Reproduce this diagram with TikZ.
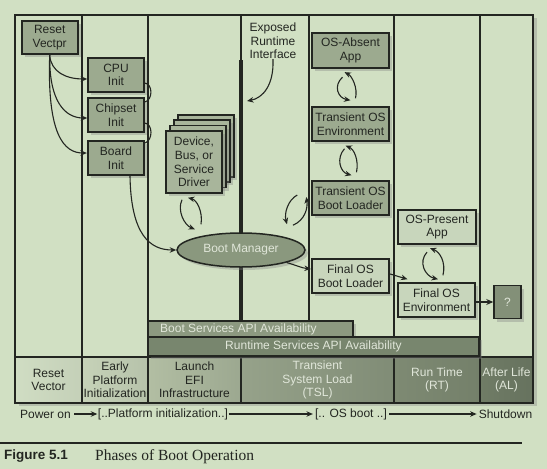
\documentclass[tikz,border=0pt]{standalone}
\usepackage{fontspec}
\setmainfont{Liberation Sans}
\newfontfamily\capserif{Liberation Serif}
\usetikzlibrary{arrows.meta,shadows,shapes.geometric}
\definecolor{ink}{RGB}{35,38,33}
\definecolor{bg}{RGB}{209,224,195}
\definecolor{boxmid}{RGB}{156,170,143}
\definecolor{boxlight}{RGB}{200,214,188}
\definecolor{drvfill}{RGB}{168,181,155}
\definecolor{ellfill}{RGB}{138,152,126}
\definecolor{qfill}{RGB}{131,144,120}
\definecolor{bsbar}{RGB}{140,153,128}
\definecolor{rtbar}{RGB}{120,134,110}
\definecolor{lighttext}{RGB}{224,230,217}
\tikzset{
  shade3/.style={drop shadow={opacity=0.35,shadow xshift=3pt,shadow yshift=-3pt}},
  box/.style={draw=ink,line width=1.5pt,fill=boxmid,minimum width=56pt,minimum height=34pt,
    inner sep=0pt,align=center,text=ink,shade3},
  lbox/.style={box,fill=boxlight},
  heavy/.style={line width=2.3pt},
  conn/.style={draw=ink,line width=1.1pt,-{Stealth[length=6.5pt,width=5.5pt]}},
  link/.style={draw=ink,line width=1.1pt},
  lane/.style={draw=ink,line width=1.3pt},
  phase/.style={align=center,text=ink,inner sep=0pt},
  dphase/.style={phase,text=lighttext},
}
\begin{document}
\begin{tikzpicture}[x=1pt,y=-1pt,font=\fontsize{12}{13.6}\selectfont]
\fill[bg] (0,0) rectangle (547,469);
\useasboundingbox (0,0) rectangle (547,469);
% frame background with shadow
\path[fill=bg,drop shadow={opacity=0.35,shadow xshift=4pt,shadow yshift=-3pt}] (15,15) rectangle (533,403);
% phase cells
\path[left color={rgb,255:red,208;green,221;blue,195},right color={rgb,255:red,196;green,208;blue,184}] (15,357) rectangle (82,403);
\path[left color={rgb,255:red,198;green,210;blue,184},right color={rgb,255:red,182;green,194;blue,170}] (82,357) rectangle (148,403);
\path[left color={rgb,255:red,178;green,190;blue,163},right color={rgb,255:red,156;green,168;blue,144}] (148,357) rectangle (241,403);
\path[left color={rgb,255:red,150;green,162;blue,138},right color={rgb,255:red,128;green,140;blue,118}] (241,357) rectangle (394,403);
\path[left color={rgb,255:red,126;green,138;blue,115},right color={rgb,255:red,116;green,128;blue,106}] (394,357) rectangle (480,403);
\path[left color={rgb,255:red,112;green,124;blue,102},right color={rgb,255:red,102;green,114;blue,94}] (480,357) rectangle (533,403);
% lanes
\draw[lane] (82,15) -- (82,403);
\draw[lane] (148,15) -- (148,321);
\draw[lane] (148,357) -- (148,403);
\draw[lane] (241,15) -- (241,60);
\draw[ink,line width=3.3pt] (241,60) -- (241,321);
\draw[lane] (241,357) -- (241,403);
\draw[lane] (309,15) -- (309,321);
\draw[lane] (394,15) -- (394,403);
\draw[lane] (480,15) -- (480,403);
\draw[lane] (15,357) -- (533,357);
% bars
\path[fill=bsbar,draw=ink,line width=1.2pt,shade3] (148,321) rectangle (353,337);
\path[fill=rtbar,draw=ink,line width=1.2pt,shade3] (148,337) rectangle (479,356);
\node[anchor=west,text=lighttext,inner sep=0pt] (bsapi) at (160,329) {Boot Services API Availability};
\node[text=lighttext,inner sep=0pt] (rtapi) at (313.5,346.5) {Runtime Services API Availability};
% frame border
\draw[ink,line width=1.5pt] (15,15) rectangle (533,403);
% phase labels
\node[phase] (p1) at (48.5,380) {Reset\\Vector};
\node[phase] (p2) at (115,380) {Early\\Platform\\Initialization};
\node[phase] (p3) at (194.5,380) {Launch\\EFI\\Infrastructure};
\node[dphase] (p4) at (317.5,380) {Transient\\System Load\\(TSL)};
\node[dphase] (p5) at (437,380) {Run Time\\(RT)};
\node[dphase] (p6) at (506.5,380) {After Life\\(AL)};
% boxes
\node[box,heavy,minimum width=56pt,minimum height=33pt] (reset) at (49.7,37.5) {Reset\\Vectpr};
\node[box] (cpu) at (116,75) {CPU\\Init};
\node[box] (chipset) at (116,115) {Chipset\\Init};
\node[box,heavy] (board) at (116,158) {Board\\Init};
\node[box,fill=drvfill,minimum height=62pt] (drv3) at (206,146) {};
\node[box,fill=drvfill,minimum height=62pt] (drv2) at (202,151) {};
\node[box,fill=drvfill,minimum height=62pt] (drv1) at (198,156.5) {};
\node[box,fill=drvfill,minimum height=62pt] (driver) at (194,162) {Device,\\Bus, or\\Service\\Driver};
\node[ellipse,draw=ink,line width=1.5pt,fill=ellfill,minimum width=128pt,minimum height=34pt,inner sep=0pt,text=lighttext,shade3] (bootmgr) at (241,250) {Boot Manager};
\node[align=center,inner sep=0pt,text=ink] (exposed) at (273,41) {Exposed\\Runtime\\Interface};
\coordinate (rti) at (247,101);
\node[box,heavy,minimum width=77pt,minimum height=35pt] (osabsent) at (350.5,50.5) {OS-Absent\\App};
\node[box,minimum width=77pt] (tenv) at (350.5,124) {Transient OS\\Environment};
\node[box,minimum width=77pt] (tbl) at (350.5,198) {Transient OS\\Boot Loader};
\node[lbox,heavy,minimum width=77pt] (fbl) at (350.5,276) {Final OS\\Boot Loader};
\node[lbox,heavy,minimum width=78pt] (osp) at (437,227) {OS-Present\\App};
\node[lbox,minimum width=77pt] (fenv) at (436.5,300) {Final OS\\Environment};
\node[box,fill=qfill,minimum width=27pt,minimum height=33pt,text=lighttext] (q) at (507.5,302) {?};
% connectors
\draw[conn] (reset.south) .. controls (51,72) and (66,79) .. ([yshift=-4pt]cpu.west);
\draw[conn] (reset.south) .. controls (49,100) and (64,118) .. ([yshift=-3pt]chipset.west);
\draw[conn] (reset.south) .. controls (47,135) and (64,153) .. ([yshift=5pt]board.west);
\draw[link] ([yshift=-8pt]cpu.east) .. controls (153,84) and (153,100) .. ([yshift=13pt]chipset.east);
\draw[link] ([yshift=-8pt]chipset.east) .. controls (153,124) and (153,140) .. ([yshift=15pt]board.east);
\draw[conn] ([xshift=14pt]board.south) .. controls (131,235) and (150,250) .. (bootmgr.west);
\draw[conn] ([xshift=-12pt,yshift=-6pt]driver.south) .. controls (177,210) and (184,225) .. ([xshift=-46pt,yshift=3pt]bootmgr.north);
\draw[conn] ([xshift=-40pt,yshift=8pt]bootmgr.north) .. controls (203,212) and (197,200) .. ([xshift=-6pt,yshift=-4pt]driver.south);
\draw[conn] ([xshift=-14pt,yshift=3pt]tbl.west) .. controls (288,200) and (284,213) .. ([xshift=46pt,yshift=8pt]bootmgr.north);
\draw[conn] ([xshift=52pt,yshift=7pt]bootmgr.north) .. controls (305,220) and (308,208) .. ([xshift=-5pt,yshift=1pt]tbl.west);
\draw[conn] ([xshift=-8pt,yshift=-8pt]osabsent.south) .. controls (333,86) and (338,98) .. ([yshift=6pt]tenv.north);
\draw[conn] ([xshift=5pt,yshift=8pt]tenv.north) .. controls (358,88) and (352,76) .. ([xshift=-6pt,yshift=-3pt]osabsent.south);
\draw[conn] ([xshift=-6pt,yshift=-7pt]tenv.south) .. controls (336,158) and (340,172) .. ([xshift=1pt,yshift=5pt]tbl.north);
\draw[conn] ([xshift=6pt,yshift=8pt]tbl.north) .. controls (359,160) and (354,149) .. ([xshift=-5pt,yshift=-4pt]tenv.south);
\draw[conn] (bootmgr.south east) .. controls (295,265) and (302,268) .. ([yshift=7pt]fbl.west);
\draw[conn] ([yshift=2pt]fbl.east) -- ([xshift=-29pt,yshift=3pt]fenv.north);
\draw[conn] ([xshift=-10pt,yshift=-7pt]osp.south) .. controls (418,262) and (425,276) .. ([xshift=1.5pt,yshift=3pt]fenv.north);
\draw[conn] ([xshift=6.5pt,yshift=7pt]fenv.north) .. controls (446,262) and (440,252) .. ([xshift=-7pt,yshift=-3pt]osp.south);
\draw[draw=ink,line width=2.5pt,-{Stealth[length=7pt,width=6pt]}] ([yshift=-2pt]fenv.east) -- (q.west);
\draw[conn] (exposed.south) .. controls (274,85) and (263,98) .. (rti);
% power-on row
\node[inner xsep=3pt,inner ysep=0pt,text=ink] (po1) at (45.5,414) {Power on};
\node[inner xsep=0.5pt,inner ysep=0pt,text=ink] (po2) at (163,414) {[..Platform initialization..]};
\node[inner xsep=2pt,inner ysep=0pt,text=ink] (po3) at (351,414) {[.. OS boot ..]};
\node[inner xsep=2pt,inner ysep=0pt,text=ink] (po4) at (505.5,414) {Shutdown};
\draw[conn] (po1) -- (po2);
\draw[conn] (po2) -- (po3);
\draw[conn] (po3) -- (po4);
% caption
\draw[ink,line width=1.8pt] (0,443) -- (522,443);
\node[anchor=west,inner sep=0pt,font=\fontsize{13.5}{15}\selectfont\bfseries,text=ink] (figno) at (4,456.5) {Figure 5.1};
\node[anchor=west,inner sep=0pt,font=\capserif\fontsize{15.5}{18}\selectfont,text=ink] (figtitle) at (95,456.5) {Phases of Boot Operation};
\end{tikzpicture}
\end{document}
